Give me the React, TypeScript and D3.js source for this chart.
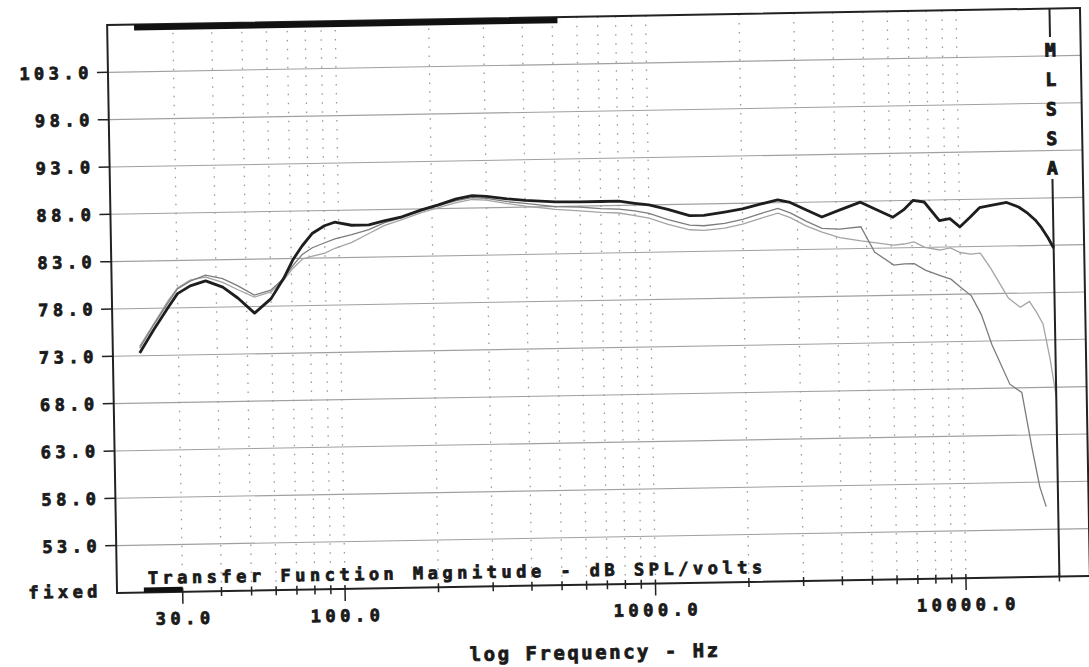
import React from 'react';
import * as d3 from 'd3';

// frequency grid the curves were read on (Hz)
const freqs = [22.5, 25, 28, 30, 33, 37, 42, 47, 53, 60, 66, 71, 76, 82, 90, 97, 110, 125, 140, 160, 185, 210, 240, 270, 300, 350, 400, 500, 600, 700, 800, 900, 1000, 1150, 1350, 1500, 1750, 2000, 2300, 2600, 2850, 3200, 3600, 4100, 4800, 5300, 6100, 6600, 7100, 7700, 8600, 9300, 10000, 10800, 11600, 12500, 14200, 15500, 16600, 17500, 18300, 19200, 20000];

// on-axis response (dark, thick)
const onAxis = [73.3, 75.7, 78.1, 79.5, 80.3, 80.8, 80.1, 78.9, 77.3, 78.8, 80.9, 82.9, 84.3, 85.6, 86.4, 86.75, 86.4, 86.4, 86.8, 87.2, 87.9, 88.4, 89.0, 89.3, 89.2, 88.9, 88.7, 88.5, 88.45, 88.45, 88.45, 88.2, 88.0, 87.5, 86.8, 86.8, 87.1, 87.4, 87.9, 88.3, 88.0, 87.2, 86.4, 87.1, 87.9, 87.2, 86.25, 87.0, 88.0, 87.8, 85.8, 86.0, 85.1, 86.1, 87.1, 87.3, 87.6, 87.1, 86.4, 85.7, 84.9, 83.8, 82.7];

// off-axis curve that falls off first (medium grey)
const offAxisA = [73.8, 76.2, 78.6, 80.0, 80.8, 81.4, 81.0, 80.2, 79.2, 79.7, 80.9, 82.3, 83.4, 84.1, 84.6, 85.0, 85.4, 85.9, 86.6, 87.1, 87.8, 88.3, 88.8, 89.1, 89.0, 88.6, 88.4, 88.0, 87.9, 87.7, 87.6, 87.4, 87.1, 86.4, 85.8, 85.7, 85.9, 86.3, 86.9, 87.4, 86.9, 86.0, 85.2, 85.1, 85.3, 82.6, 81.2, 81.3, 81.3, 80.6, 80.0, 79.6, 78.7, 77.8, 75.8, 72.6, 68.4, 67.5, 61.6, 57.5, 55.4, null, null];

// second off-axis curve (light grey)
const offAxisB = [74.0, 76.3, 78.8, 80.1, 80.9, 81.2, 80.6, 79.8, 79.0, 79.5, 80.7, 82.0, 82.9, 83.2, 83.5, 84.0, 84.6, 85.5, 86.3, 86.9, 87.6, 88.1, 88.6, 88.9, 88.8, 88.4, 88.1, 87.7, 87.5, 87.3, 87.2, 86.9, 86.6, 85.9, 85.3, 85.2, 85.4, 85.8, 86.4, 86.9, 86.4, 85.5, 84.8, 84.2, 83.8, 83.6, 83.3, 83.4, 83.6, 83.0, 82.7, 82.9, 82.4, 82.2, 82.3, 80.7, 77.5, 76.5, 77.1, 75.9, 74.7, 71.0, 67.0];

const yTicks = [53, 58, 63, 68, 73, 78, 83, 88, 93, 98, 103];
const xLabelFreqs = [30, 100, 1000, 10000];
const gridFreqs = [30, 40, 50, 60, 70, 80, 90, 100, 200, 300, 400, 500, 600, 700, 800, 900, 1000, 2000, 3000, 4000, 5000, 6000, 7000, 8000, 9000, 10000];
const tickFreqs = [...gridFreqs, 20000];
const windowBand = [22.5, 520];
const markerBand = [22.5, 30];
const sideLetters = ['M', 'L', 'S', 'S', 'A'];

const left = 112;
const right = 1085;
const top = 16.5;
const bottom = 584.5;

const x = d3.scaleLog().domain([20, 20000]).range([123, 1054.5]);
const y = d3.scaleLinear().domain([48, 108]).range([bottom, top]);

// chunky plotter-style lettering
const font = {
    fontFamily: '"DejaVu Sans Mono", monospace',
    fontWeight: 'bold' as const,
    fontSize: 17,
    letterSpacing: 4.5,
    fill: '#1a1a1a',
    stroke: '#1a1a1a',
    strokeWidth: 0.8,
};

export default function App() {

    const line = d3.line<[number, number | null]>()
        .defined(d => d[1] != null)
        .x(d => x(d[0]))
        .y(d => y(d[1] as number));

    const path = (vals: (number | null)[]) =>
        line(freqs.map((f, i) => [f, vals[i]] as [number, number | null])) || '';

    const xm = x(20000);

    return (
        <svg width={1089} height={667} style={{ position: 'absolute', left: 0, top: 0, background: '#fff' }}>
            <g transform="rotate(-1 597 300)">
                {/* horizontal grid */}
                {yTicks.map(t =>
                    <line key={'h' + t} x1={left} x2={right} y1={y(t)} y2={y(t)} stroke="#a0a0a0" strokeWidth={1.1} />
                )}
                {/* dotted vertical grid */}
                {gridFreqs.map(f =>
                    <line key={'v' + f} x1={x(f)} x2={x(f)} y1={top} y2={bottom}
                        stroke="#999" strokeWidth={1.3} strokeDasharray="1.5 7.5" />
                )}

                {/* curves */}
                <path d={path(offAxisB)} fill="none" stroke="#a4a4a4" strokeWidth={1.3} />
                <path d={path(offAxisA)} fill="none" stroke="#7c7c7c" strokeWidth={1.3} />
                <path d={path(onAxis)} fill="none" stroke="#1e1e1e" strokeWidth={2.8} strokeLinejoin="round" />

                {/* frame */}
                <rect x={left} y={top} width={right - left} height={bottom - top} fill="none" stroke="#222" strokeWidth={2} />
                <rect x={x(windowBand[0])} y={top} width={x(windowBand[1]) - x(windowBand[0])} height={6} fill="#111" />
                <rect x={x(markerBand[0])} y={bottom - 5} width={x(markerBand[1]) - x(markerBand[0])} height={5} fill="#111" />

                {/* MLSSA marker line */}
                <line x1={xm} x2={xm} y1={top} y2={45} stroke="#222" strokeWidth={2} />
                <line x1={xm} x2={xm} y1={187} y2={bottom} stroke="#222" strokeWidth={2} />
                {sideLetters.map((c, i) =>
                    <text key={'m' + i} x={xm} y={58 + i * 29.5} dy="0.36em" textAnchor="middle"
                        style={{ ...font, fontSize: 18, letterSpacing: 0, strokeWidth: 1 }}>{c}</text>
                )}

                {/* y axis */}
                {yTicks.map(t =>
                    <g key={'yt' + t}>
                        <line x1={left - 11} x2={left} y1={y(t)} y2={y(t)} stroke="#222" strokeWidth={1.5} />
                        <text x={97} y={y(t)} dy="0.36em" textAnchor="end" style={font}>{t.toFixed(1)}</text>
                    </g>
                )}
                <text x={97} y={y(48) - 2} dy="0.36em" textAnchor="end" style={font}>fixed</text>

                {/* x axis ticks */}
                {tickFreqs.map(f => {
                    const major = xLabelFreqs.includes(f);
                    return <line key={'xt' + f} x1={x(f)} x2={x(f)} y1={bottom - 4} y2={bottom + (major ? 12 : 5)}
                        stroke="#222" strokeWidth={1.5} />;
                })}
                {xLabelFreqs.map(f =>
                    <text key={'xl' + f} x={x(f) + 2} y={611} dy="0.36em" textAnchor="middle" style={font}>
                        {f.toFixed(1)}
                    </text>
                )}

                <text x={143} y={576} style={font}>Transfer Function Magnitude - dB SPL/volts</text>
                <text x={589} y={652} dy="0.36em" textAnchor="middle"
                    style={{ ...font, fontSize: 19, letterSpacing: 2.5 }}>log Frequency - Hz</text>
            </g>
        </svg>
    );
}
